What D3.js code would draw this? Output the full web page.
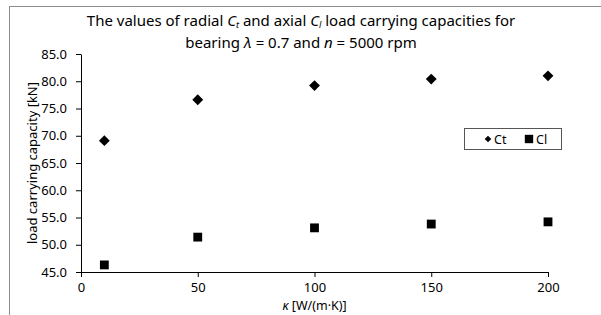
<!DOCTYPE html>
<html>
<head>
<meta charset="utf-8">
<script src="https://cdn.jsdelivr.net/npm/d3@7"></script>
<style>
  html, body { margin: 0; padding: 0; background: #fff; }
  svg { display: block; font-family: "Noto Sans", "Open Sans", sans-serif; }
</style>
</head>
<body>
<div id="chart"></div>
<script>
// thermal conductivity kappa [W/(m·K)] vs load carrying capacity [kN]
const kappa = [10, 50, 100, 150, 200];
const ctValues = [69.1, 76.6, 79.2, 80.4, 81.0];
const clValues = [46.3, 51.4, 53.1, 53.8, 54.2];
const xTicks = [0, 50, 100, 150, 200];
const yTicks = [45, 50, 55, 60, 65, 70, 75, 80, 85];

const W = 601, H = 315;
const margin = { top: 54, right: 53, bottom: 43, left: 81 };
const innerW = W - margin.left - margin.right;
const innerH = H - margin.top - margin.bottom;

const svg = d3.select("#chart").append("svg")
  .attr("width", W).attr("height", H);

// outer chart frame (cut off at right / bottom like the reference)
svg.append("rect")
  .attr("x", 9.5).attr("y", 6.5)
  .attr("width", W + 10).attr("height", H + 10)
  .attr("fill", "none").attr("stroke", "#8c8c8c");

const g = svg.append("g").attr("transform", `translate(${margin.left},${margin.top})`);

const x = d3.scaleLinear().domain([0, 200]).range([0, innerW]);
const y = d3.scaleLinear().domain([45, 85]).range([innerH, 0]);

// axes
g.append("g")
  .attr("transform", `translate(0,${innerH})`)
  .call(d3.axisBottom(x).tickValues(xTicks).tickSize(5).tickSizeOuter(0).tickPadding(6))
  .call(a => a.selectAll("path,line").attr("stroke", "#000"))
  .selectAll("text")
  .style("font-size", "13px").style("fill", "#000")
  .style("font-family", "Noto Sans");

g.append("g")
  .call(d3.axisLeft(y).tickValues(yTicks).tickSize(5).tickSizeOuter(0).tickPadding(9)
    .tickFormat(d3.format(".1f")))
  .call(a => a.selectAll("path,line").attr("stroke", "#000"))
  .selectAll("text")
  .style("font-size", "13px").style("fill", "#000")
  .style("font-family", "Noto Sans");

// markers
const diamond = d3.symbol().type(d3.symbolDiamond2).size(75);
const square = d3.symbol().type(d3.symbolSquare).size(78);

g.selectAll(".ct")
  .data(kappa.map((k, i) => ({ k, v: ctValues[i] })))
  .enter().append("path")
  .attr("class", "ct")
  .attr("d", diamond)
  .attr("transform", d => `translate(${x(d.k)},${y(d.v)})`)
  .attr("fill", "#000");

g.selectAll(".cl")
  .data(kappa.map((k, i) => ({ k, v: clValues[i] })))
  .enter().append("path")
  .attr("class", "cl")
  .attr("d", square)
  .attr("transform", d => `translate(${x(d.k)},${y(d.v)})`)
  .attr("fill", "#000");

// title
const title = svg.append("text")
  .attr("text-anchor", "middle")
  .style("font-size", "15px").style("fill", "#000");
const t1 = title.append("tspan").attr("x", 301).attr("y", 26);
t1.append("tspan").text("The values of radial ");
t1.append("tspan").style("font-style", "italic").text("C");
t1.append("tspan").attr("dy", 2).style("font-size", "9px").style("font-style", "italic").text("t");
t1.append("tspan").attr("dy", -2).text(" and axial  ");
t1.append("tspan").style("font-style", "italic").text("C");
t1.append("tspan").attr("dy", 2).style("font-size", "9px").style("font-style", "italic").text("l");
t1.append("tspan").attr("dy", -2).text(" load carrying capacities for");
const t2 = title.append("tspan").attr("x", 301).attr("y", 48);
t2.append("tspan").text("bearing ");
t2.append("tspan").style("font-style", "italic").text("λ");
t2.append("tspan").text(" = 0.7 and ");
t2.append("tspan").style("font-style", "italic").text("n");
t2.append("tspan").text(" = 5000 rpm");

// axis titles
svg.append("text")
  .attr("transform", `translate(37,${margin.top + innerH / 2}) rotate(-90)`)
  .attr("text-anchor", "middle")
  .style("font-size", "13px").style("fill", "#000")
  .text("load carrying capacity [kN]");

const xt = svg.append("text")
  .attr("x", margin.left + x(100)).attr("y", 310)
  .attr("text-anchor", "middle")
  .style("font-size", "12.5px").style("fill", "#000");
xt.append("tspan").style("font-style", "italic").text("κ");
xt.append("tspan").text(" [W/(m·K)]");

// legend
const lg = svg.append("g").attr("transform", "translate(464,128)");
lg.append("rect").attr("x", 0.5).attr("y", 0.5).attr("width", 97).attr("height", 21)
  .attr("fill", "#fff").attr("stroke", "#555");
lg.append("path").attr("d", d3.symbol().type(d3.symbolDiamond2).size(28))
  .attr("transform", "translate(24,11)").attr("fill", "#000");
lg.append("text").attr("x", 30).attr("y", 15.5).style("font-size", "12.5px").text("Ct");
lg.append("path").attr("d", d3.symbol().type(d3.symbolSquare).size(70))
  .attr("transform", "translate(65,11)").attr("fill", "#000");
lg.append("text").attr("x", 72).attr("y", 15.5).style("font-size", "12.5px").text("Cl");
</script>
</body>
</html>
